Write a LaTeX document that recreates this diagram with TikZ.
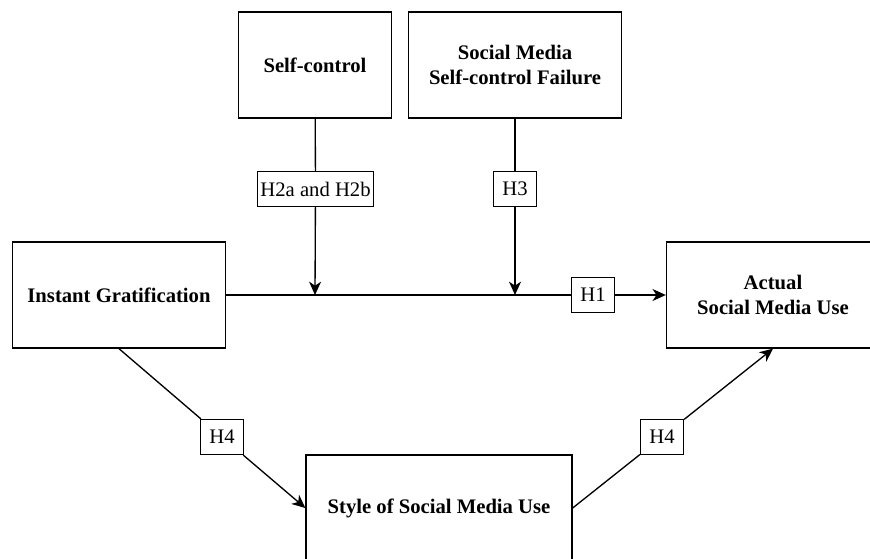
\documentclass[tikz,border=0pt]{standalone}
\usepackage{fontspec}
\setmainfont{Liberation Serif}
\usetikzlibrary{arrows.meta,positioning}

\tikzset{
  var/.style={draw, line width=1pt, align=center, font=\bfseries\fontsize{15.5}{19}\selectfont,
              minimum width=213*0.75pt, minimum height=106*0.75pt, inner sep=0pt},
  hyp/.style={draw, line width=1pt, fill=white, font=\fontsize{15.5}{19}\selectfont,
              minimum height=35*0.75pt, minimum width=43*0.75pt, inner sep=2pt},
  link/.style={line width=1pt},
  arr/.style={line width=1pt, -{Stealth[length=10pt,width=9pt,inset=3pt]}}
}

\begin{document}
\begin{tikzpicture}[x=0.75pt, y=-0.75pt]
\clip (0,0) rectangle (870,559);
\fill[white] (0,0) rectangle (870,559);

\node[var, minimum width=153*0.75pt] (selfctl) at (315,65) {Self-control};
\node[var]                       (smfail)   at (515,65)  {Social Media\\Self-control Failure};
\node[var]                       (instgrat) at (119,295) {Instant Gratification};
\node[var]                       (actual)   at (773,295) {Actual\\Social Media Use};
\node[var, minimum width=266*0.75pt] (style) at (439,508) {Style of Social Media Use};

\coordinate (m1) at (315,295);
\coordinate (m2) at (515,295);

\node[hyp] (h2)  at (315.5,189) {H2a and H2b};
\node[hyp] (h3)  at (515,189)   {H3};
\node[hyp] (h1)  at (593,295)   {H1};
\node[hyp] (h4a) at (222,437)   {H4};
\node[hyp] (h4b) at (662,437)   {H4};

% direct path
\draw[link] (instgrat) -- (h1);
\draw[arr]  (h1) -- (actual);

% moderators
\draw[link] (selfctl) -- (h2);
\draw[arr]  (h2) -- (m1);
\draw[link] (smfail) -- (h3);
\draw[arr]  (h3) -- (m2);

% mediation
\draw[link] (instgrat.south) -- (h4a);
\draw[arr]  (h4a) -- (style.west);
\draw[link] (style.east) -- (h4b);
\draw[arr]  (h4b) -- (actual.south);
\end{tikzpicture}
\end{document}
